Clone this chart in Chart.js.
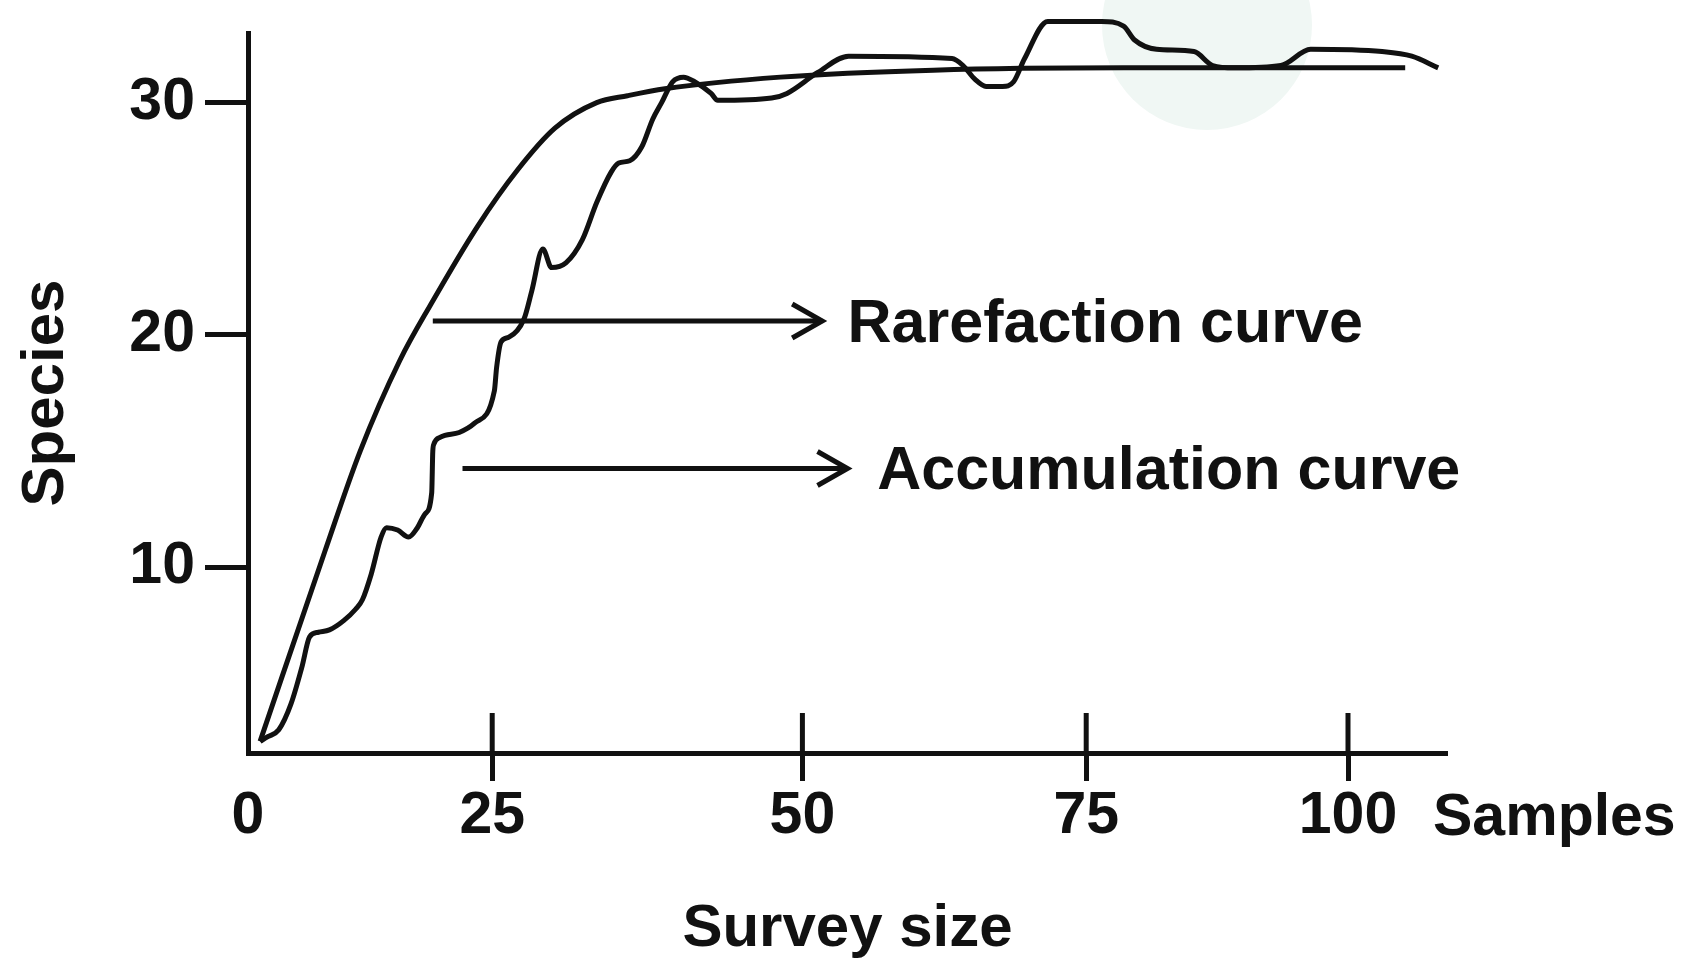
<!DOCTYPE html>
<html>
<head>
<meta charset="utf-8">
<title>Rarefaction vs accumulation curve</title>
<script src="https://cdn.jsdelivr.net/npm/chart.js@4/dist/chart.umd.min.js"></script>
<style>
  html, body { margin: 0; padding: 0; background: #fff; }
  canvas { display: block; }
</style>
</head>
<body>
<canvas id="curveChart" width="1690" height="968"></canvas>
<script>
// values (x = samples, y = species)
const rareX = [1.1, 7.0, 10.2, 13.8, 16.6, 20.9, 24.5, 27.9, 31.7, 34.5, 37.9, 48.4, 62.3, 79.6, 105.2];
const rareY = [2.5, 10.7, 15.0, 18.9, 21.3, 24.7, 27.1, 28.9, 30.0, 30.3, 30.6, 31.1, 31.4, 31.5, 31.5];

const accX = [1.1, 1.8, 2.8, 3.9, 4.9, 5.6, 6.4, 7.4, 8.7, 9.8,
  10.4, 11.2, 12.1, 12.6, 13.6, 14.6, 15.4, 16.1, 16.7, 16.8,
  16.9, 17.5, 19.2, 20.6, 22.4, 22.6, 23.0, 23.7, 25.1, 25.8,
  26.8, 27.6, 28.9, 30.4, 31.7, 33.0, 33.7, 34.7, 35.8, 36.8,
  37.6, 38.6, 39.6, 40.6, 42.1, 42.7, 47.6, 49.0, 51.8, 54.6,
  64.0, 65.0, 66.1, 67.1, 68.6, 69.6, 70.6, 72.7, 77.6, 79.6,
  80.6, 82.6, 86.0, 87.7, 89.7, 93.9, 96.6, 103.1, 105.8, 108.2];
const accY = [2.5, 2.7, 3.0, 4.1, 5.7, 7.0, 7.2, 7.3, 7.7, 8.2,
  8.6, 9.7, 11.3, 11.7, 11.6, 11.3, 11.7, 12.3, 13.2, 15.0,
  15.3, 15.6, 15.8, 16.2, 17.6, 18.6, 19.7, 19.9, 20.7, 21.9,
  23.7, 22.9, 23.1, 24.1, 25.7, 27.0, 27.4, 27.5, 28.1, 29.3,
  30.0, 30.9, 31.1, 30.9, 30.4, 30.1, 30.2, 30.4, 31.3, 32.0,
  31.9, 31.6, 31.0, 30.7, 30.7, 30.9, 31.9, 33.5, 33.5, 33.3,
  32.7, 32.3, 32.2, 31.6, 31.5, 31.6, 32.3, 32.2, 32.0, 31.5];

// tick marks are hand-placed in the original, so keep where they sit
const xTickPos = [0, 22.2, 50.4, 76.2, 100];
const xTickLabels = ["0", "25", "50", "75", "100"];
const yTickValues = [10, 20, 30];

// arrow annotations (data units)
const arrowLabels = ["Rarefaction curve", "Accumulation curve"];
const arrowFrom = [16.8, 19.5];
const arrowTo = [52.2, 54.5];
const arrowY = [20.6, 14.25];
const labelX = [54.5, 57.2];

const INK = "#111";
const FONT = "'Liberation Sans', Arial, sans-serif";

function toPoints(xs, ys) {
  return xs.map((x, i) => ({ x: x, y: ys[i] }));
}

const extrasPlugin = {
  id: "extras",
  beforeDraw(chart) {
    // faint watermark blob behind the plot
    const c = chart.ctx;
    c.save();
    c.fillStyle = "#f0f7f4";
    c.beginPath();
    c.arc(1207, 25, 105, 0, Math.PI * 2);
    c.fill();
    c.restore();
  },
  afterDraw(chart) {
    const c = chart.ctx;
    const xs = chart.scales.x;
    const ys = chart.scales.y;
    c.save();
    c.strokeStyle = INK;
    c.fillStyle = INK;
    c.lineWidth = 5;

    // x tick marks also poke above the axis
    xs.ticks.forEach(function (t) {
      if (t.value === 0) return;
      const px = xs.getPixelForValue(t.value);
      c.beginPath();
      c.moveTo(px, xs.top);
      c.lineTo(px, xs.top - 40);
      c.stroke();
    });

    // arrows with their labels
    c.font = "bold 61px " + FONT;
    c.textAlign = "left";
    c.textBaseline = "middle";
    c.lineJoin = "miter";
    for (let i = 0; i < arrowLabels.length; i++) {
      const x0 = xs.getPixelForValue(arrowFrom[i]);
      const x1 = xs.getPixelForValue(arrowTo[i]);
      const y = ys.getPixelForValue(arrowY[i]);
      c.beginPath();
      c.moveTo(x0, y);
      c.lineTo(x1, y);
      c.stroke();
      c.beginPath();
      c.moveTo(x1 - 30, y - 17);
      c.lineTo(x1, y);
      c.lineTo(x1 - 30, y + 17);
      c.stroke();
      c.fillText(arrowLabels[i], xs.getPixelForValue(labelX[i]), y + 4);
    }

    // unit name at the end of the x axis
    c.font = "bold 59px " + FONT;
    c.fillText("Samples", xs.right - 14, xs.top + 30 + 36);
    c.restore();
  }
};

const ctx = document.getElementById("curveChart").getContext("2d");

const chart = new Chart(ctx, {
  type: "line",
  data: {
    datasets: [
      {
        label: "Rarefaction curve",
        data: toPoints(rareX, rareY),
        borderColor: INK,
        borderWidth: 5,
        pointRadius: 0,
        cubicInterpolationMode: "monotone",
        fill: false,
        clip: false
      },
      {
        label: "Accumulation curve",
        data: toPoints(accX, accY),
        borderColor: INK,
        borderWidth: 5,
        pointRadius: 0,
        cubicInterpolationMode: "monotone",
        fill: false,
        clip: false
      }
    ]
  },
  options: {
    responsive: false,
    animation: false,
    layout: { padding: { top: 33, right: 243, bottom: 0, left: 0 } },
    plugins: {
      legend: { display: false },
      tooltip: { enabled: false }
    },
    scales: {
      x: {
        type: "linear",
        position: "bottom",
        min: 0,
        max: 109,
        border: { display: true, color: INK, width: 5 },
        grid: {
          drawOnChartArea: false,
          drawTicks: true,
          tickLength: 28,
          tickWidth: 5,
          tickColor: (c) => (c.tick && c.tick.value === 0 ? "rgba(0,0,0,0)" : INK)
        },
        ticks: {
          color: INK,
          font: { family: FONT, size: 59, weight: "bold" },
          padding: 0,
          maxRotation: 0,
          minRotation: 0,
          autoSkip: false,
          callback: (value, index) => xTickLabels[index]
        },
        afterBuildTicks: (axis) => {
          axis.ticks = xTickPos.map((v) => ({ value: v }));
        },
        afterFit: (scale) => {
          scale.height = 215;
          scale.paddingLeft = 0;
          scale.paddingRight = 0;
        },
        title: {
          display: true,
          text: "Survey size",
          color: INK,
          font: { family: FONT, size: 60, weight: "bold" },
          padding: { top: 0, bottom: 3 }
        }
      },
      y: {
        type: "linear",
        min: 2,
        max: 33,
        border: { display: true, color: INK, width: 5 },
        grid: {
          drawOnChartArea: false,
          drawTicks: true,
          tickLength: 43,
          tickWidth: 5,
          tickColor: INK
        },
        ticks: {
          color: INK,
          font: { family: FONT, size: 59, weight: "bold" },
          padding: 10
        },
        afterBuildTicks: (axis) => {
          axis.ticks = yTickValues.map((v) => ({ value: v }));
        },
        afterFit: (scale) => {
          scale.width = 248;
          scale.paddingTop = 0;
          scale.paddingBottom = 0;
        },
        title: {
          display: true,
          text: "Species",
          color: INK,
          font: { family: FONT, size: 60, weight: "bold" },
          padding: { top: 10, bottom: 0 }
        }
      }
    }
  },
  plugins: [extrasPlugin]
});
</script>
</body>
</html>
